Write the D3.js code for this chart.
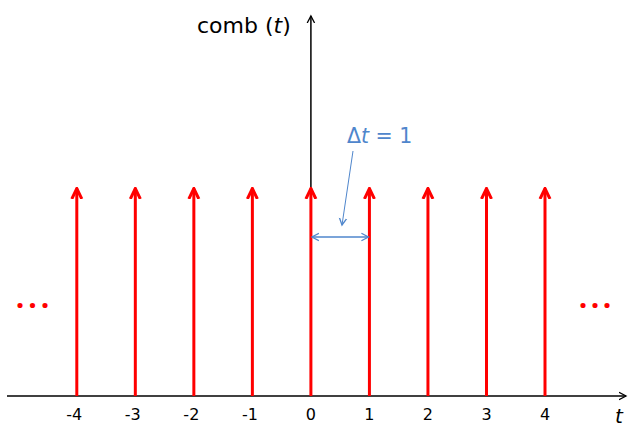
<!DOCTYPE html>
<html>
<head>
<meta charset="utf-8">
<script src="https://cdn.jsdelivr.net/npm/d3@7"></script>
<style>
  html, body { margin: 0; padding: 0; background: #fff; }
  svg { display: block; }
</style>
</head>
<body>
<svg id="chart" width="628" height="428"></svg>
<script>
// Dirac comb: unit impulses at integer t
const tickLabels = ["-4", "-3", "-2", "-1", "0", "1", "2", "3", "4"];
const impulseT = [-4, -3, -2, -1, 0, 1, 2, 3, 4];
const impulseHeight = [1, 1, 1, 1, 1, 1, 1, 1, 1];
const spacing = 1; // Δt

const FONT = "'DejaVu Sans', sans-serif";
const svg = d3.select("#chart");

const x = d3.scaleLinear().domain([-4, 4]).range([76.8, 545]);
const y = d3.scaleLinear().domain([0, 1]).range([396, 187]);

const RED = "#ff0000";
const BLUE = "#4f86cc";

// arrowhead markers (open chevrons)
const defs = svg.append("defs");
function chevron(id, color, w, len, sw) {
  defs.append("marker")
    .attr("id", id)
    .attr("viewBox", `${-len} ${-w} ${len + 2} ${2 * w}`)
    .attr("markerUnits", "userSpaceOnUse")
    .attr("markerWidth", len + 2).attr("markerHeight", 2 * w)
    .attr("refX", 0).attr("refY", 0)
    .attr("orient", "auto-start-reverse")
    .append("path")
    .attr("d", `M${-len},${-w + sw}L0,0L${-len},${w - sw}`)
    .attr("fill", "none").attr("stroke", color).attr("stroke-width", sw)
    .attr("stroke-linejoin", "miter").attr("stroke-linecap", "butt");
}
chevron("redHead", RED, 8, 10.5, 3);
chevron("blackHead", "#000", 5, 7, 1.3);
chevron("blueHead", BLUE, 5, 7, 1.3);

// horizontal t axis
svg.append("line")
  .attr("x1", 7).attr("x2", 626)
  .attr("y1", y(0)).attr("y2", y(0))
  .attr("stroke", "#000").attr("stroke-width", 1.5)
  .attr("marker-end", "url(#blackHead)");

// vertical axis
svg.append("line")
  .attr("x1", x(0)).attr("x2", x(0))
  .attr("y1", y(0)).attr("y2", 16)
  .attr("stroke", "#000").attr("stroke-width", 1.5)
  .attr("marker-end", "url(#blackHead)");

// impulses
svg.append("g").selectAll("line")
  .data(impulseT.map((t, i) => ({ t, h: impulseHeight[i] })))
  .join("line")
  .attr("x1", d => x(d.t)).attr("x2", d => x(d.t))
  .attr("y1", y(0)).attr("y2", d => y(d.h) + 1.5)
  .attr("stroke", RED).attr("stroke-width", 3)
  .attr("marker-end", "url(#redHead)");

// tick labels
svg.append("g").selectAll("text")
  .data(tickLabels)
  .join("text")
  .attr("x", (d, i) => x(impulseT[i]) + (d.startsWith("-") ? -2.5 : 0))
  .attr("y", 420)
  .attr("text-anchor", "middle")
  .attr("font-family", FONT)
  .attr("font-size", 16)
  .attr("fill", "#000")
  .text(d => d);

// axis titles
const ylab = svg.append("text")
  .attr("x", 197).attr("y", 33)
  .attr("font-family", FONT)
  .attr("font-size", 22)
  .attr("fill", "#000");
ylab.append("tspan").text("comb (");
ylab.append("tspan").attr("font-style", "italic").text("t");
ylab.append("tspan").text(")");

svg.append("text")
  .attr("x", 619).attr("y", 423)
  .attr("text-anchor", "middle")
  .attr("font-family", FONT)
  .attr("font-style", "italic")
  .attr("font-size", 20)
  .attr("fill", "#000")
  .text("t");

// continuation dots
[[20, 32.5, 45], [583, 595, 607]].forEach(xs => {
  svg.append("text")
    .attr("x", xs.join(" "))
    .attr("y", 308)
    .attr("text-anchor", "middle")
    .attr("font-family", "'Open Sans', sans-serif")
    .attr("font-weight", "bold")
    .attr("font-size", 30)
    .attr("fill", RED)
    .text("...");
});

// spacing annotation
const yAnn = 237;
svg.append("line")
  .attr("x1", x(0) + 1).attr("x2", x(spacing) - 1)
  .attr("y1", yAnn).attr("y2", yAnn)
  .attr("stroke", BLUE).attr("stroke-width", 1.3)
  .attr("marker-start", "url(#blueHead)")
  .attr("marker-end", "url(#blueHead)");

svg.append("line")
  .attr("x1", 353).attr("y1", 151)
  .attr("x2", 342).attr("y2", 225)
  .attr("stroke", BLUE).attr("stroke-width", 1)
  .attr("marker-end", "url(#blueHead)");

const dl = svg.append("text")
  .attr("x", 347).attr("y", 143)
  .attr("font-family", FONT)
  .attr("font-size", 20.5)
  .attr("fill", BLUE);
dl.append("tspan").text("Δ");
dl.append("tspan").attr("font-style", "italic").text("t");
dl.append("tspan").text(" = " + spacing);
</script>
</body>
</html>
